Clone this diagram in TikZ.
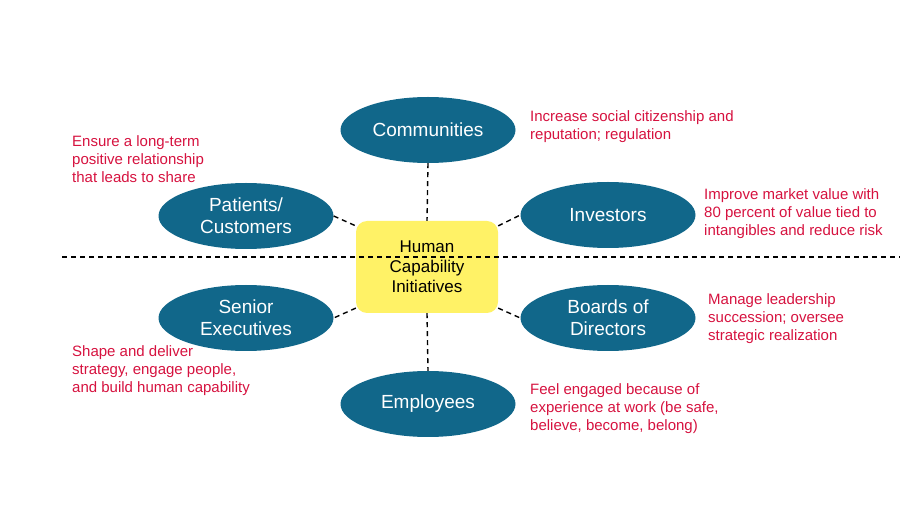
\documentclass[tikz,border=0pt]{standalone}
\usepackage{fontspec}
\setmainfont{Liberation Sans}
\usetikzlibrary{shapes.geometric}
\definecolor{hcblue}{HTML}{11678A}
\definecolor{hcyellow}{HTML}{FFF266}
\definecolor{hcred}{HTML}{D6123F}

\begin{document}
\begin{tikzpicture}[x=1pt, y=-1pt,
		group/.style={ellipse, fill=hcblue, text=white, inner sep=0pt, minimum width=175pt, minimum height=66pt, align=center, font=\fontsize{19}{22}\selectfont},
		goal/.style={anchor=base west, inner sep=0pt, text=hcred, align=left, font=\fontsize{15}{18}\selectfont},
		link/.style={line width=1.4pt, dash pattern=on 5pt off 4pt}]
		%%%%% START %%%%%
		
		\useasboundingbox (0, 0) rectangle (908, 510);
		
		\node[rectangle, rounded corners=11pt, fill=hcyellow, minimum width=142pt, minimum height=92pt, align=center, font=\fontsize{17}{20}\selectfont] (hci) at (427, 267) {Human\\Capability\\Initiatives};
		
		\node[group] (comm) at (428, 130) {Communities};
		\node[group] (pat) at (246, 216) {Patients/\\Customers};
		\node[group] (inv) at (608, 215) {Investors};
		\node[group] (sen) at (246, 318) {Senior\\Executives};
		\node[group] (brd) at (608, 318) {Boards of\\Directors};
		\node[group] (emp) at (428, 404) {Employees};
		
		% base = last line
		\node[goal] (commtxt) at (530, 140) {Increase social citizenship and\\reputation; regulation};
		\node[goal] (pattxt) at (72, 183) {Ensure a long-term\\positive relationship\\that leads to share};
		\node[goal] (invtxt) at (704, 236) {Improve market value with\\80 percent of value tied to\\intangibles and reduce risk};
		\node[goal] (brdtxt) at (708, 341) {Manage leadership\\succession; oversee\\strategic realization};
		\node[goal] (sentxt) at (72, 393) {Shape and deliver\\strategy, engage people,\\and build human capability};
		\node[goal] (emptxt) at (530, 431) {Feel engaged because of\\experience at work (be safe,\\believe, become, belong)};
		
		\draw[link] (comm.south) -- (hci.north);
		\draw[link] (hci.south) -- (emp.north);
		\draw[link] (pat.east) -- (hci.150);
		\draw[link] (hci.30) -- (inv.west);
		\draw[link] (hci.210) -- (sen.east);
		\draw[link] (hci.330) -- (brd.west);
		
		\coordinate (lineL) at (62, 257);
		\coordinate (lineR) at (900, 257);
		\draw[link] (lineL) -- (lineR);
		
		%%%%% END %%%%%
	\end{tikzpicture}
\end{document}
